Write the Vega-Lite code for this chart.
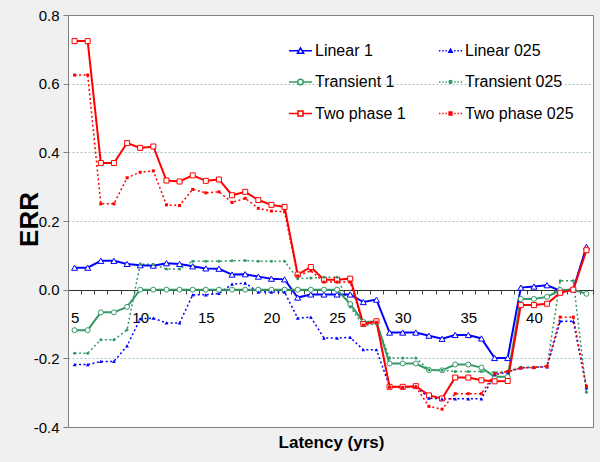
{
  "$schema": "https://vega.github.io/schema/vega-lite/v6.json",
  "width": 525,
  "height": 412,
  "autosize": {"type": "none"},
  "padding": {"left": 68, "top": 15, "right": 7, "bottom": 35},
  "background": "#f0f0f0",
  "config": {
    "font": "Liberation Sans",
    "view": {"fill": "white", "stroke": "#808080", "strokeWidth": 1}
  },
  "data": {
    "values": [
      {"t": 5, "Linear 1": 0.064, "Linear 025": -0.218, "Transient 1": -0.118, "Transient 025": -0.185, "Two phase 1": 0.724, "Two phase 025": 0.625},
      {"t": 6, "Linear 1": 0.064, "Linear 025": -0.218, "Transient 1": -0.118, "Transient 025": -0.185, "Two phase 1": 0.724, "Two phase 025": 0.625},
      {"t": 7, "Linear 1": 0.084, "Linear 025": -0.209, "Transient 1": -0.066, "Transient 025": -0.146, "Two phase 1": 0.369, "Two phase 025": 0.25},
      {"t": 8, "Linear 1": 0.084, "Linear 025": -0.209, "Transient 1": -0.066, "Transient 025": -0.146, "Two phase 1": 0.369, "Two phase 025": 0.25},
      {"t": 9, "Linear 1": 0.075, "Linear 025": -0.164, "Transient 1": -0.05, "Transient 025": -0.117, "Two phase 1": 0.427, "Two phase 025": 0.326},
      {"t": 10, "Linear 1": 0.071, "Linear 025": -0.085, "Transient 1": 0, "Transient 025": 0.074, "Two phase 1": 0.413, "Two phase 025": 0.342},
      {"t": 11, "Linear 1": 0.07, "Linear 025": -0.083, "Transient 1": 0, "Transient 025": 0.074, "Two phase 1": 0.417, "Two phase 025": 0.346},
      {"t": 12, "Linear 1": 0.077, "Linear 025": -0.097, "Transient 1": 0, "Transient 025": 0.06, "Two phase 1": 0.318, "Two phase 025": 0.247},
      {"t": 13, "Linear 1": 0.075, "Linear 025": -0.097, "Transient 1": 0, "Transient 025": 0.06, "Two phase 1": 0.315, "Two phase 025": 0.245},
      {"t": 14, "Linear 1": 0.068, "Linear 025": -0.015, "Transient 1": 0, "Transient 025": 0.083, "Two phase 1": 0.333, "Two phase 025": 0.292},
      {"t": 15, "Linear 1": 0.062, "Linear 025": -0.015, "Transient 1": 0, "Transient 025": 0.083, "Two phase 1": 0.317, "Two phase 025": 0.282},
      {"t": 16, "Linear 1": 0.061, "Linear 025": -0.011, "Transient 1": 0, "Transient 025": 0.083, "Two phase 1": 0.321, "Two phase 025": 0.285},
      {"t": 17, "Linear 1": 0.044, "Linear 025": 0.016, "Transient 1": 0, "Transient 025": 0.084, "Two phase 1": 0.275, "Two phase 025": 0.254},
      {"t": 18, "Linear 1": 0.045, "Linear 025": 0.019, "Transient 1": 0, "Transient 025": 0.085, "Two phase 1": 0.285, "Two phase 025": 0.266},
      {"t": 19, "Linear 1": 0.038, "Linear 025": -0.007, "Transient 1": 0, "Transient 025": 0.083, "Two phase 1": 0.261, "Two phase 025": 0.237},
      {"t": 20, "Linear 1": 0.032, "Linear 025": -0.007, "Transient 1": 0, "Transient 025": 0.083, "Two phase 1": 0.247, "Two phase 025": 0.229},
      {"t": 21, "Linear 1": 0.03, "Linear 025": -0.007, "Transient 1": 0, "Transient 025": 0.083, "Two phase 1": 0.241, "Two phase 025": 0.227},
      {"t": 22, "Linear 1": -0.023, "Linear 025": -0.083, "Transient 1": 0, "Transient 025": 0.032, "Two phase 1": 0.044, "Two phase 025": 0.04},
      {"t": 23, "Linear 1": -0.014, "Linear 025": -0.08, "Transient 1": 0, "Transient 025": 0.034, "Two phase 1": 0.066, "Two phase 025": 0.055},
      {"t": 24, "Linear 1": -0.014, "Linear 025": -0.141, "Transient 1": 0, "Transient 025": 0.036, "Two phase 1": 0.029, "Two phase 025": 0.022},
      {"t": 25, "Linear 1": -0.014, "Linear 025": -0.141, "Transient 1": 0, "Transient 025": 0.036, "Two phase 1": 0.029, "Two phase 025": 0.022},
      {"t": 26, "Linear 1": -0.014, "Linear 025": -0.139, "Transient 1": -0.042, "Transient 025": -0.05, "Two phase 1": 0.032, "Two phase 025": 0.022},
      {"t": 27, "Linear 1": -0.036, "Linear 025": -0.175, "Transient 1": -0.094, "Transient 025": -0.105, "Two phase 1": -0.1, "Two phase 025": -0.103},
      {"t": 28, "Linear 1": -0.029, "Linear 025": -0.175, "Transient 1": -0.093, "Transient 025": -0.099, "Two phase 1": -0.092, "Two phase 025": -0.095},
      {"t": 29, "Linear 1": -0.125, "Linear 025": -0.282, "Transient 1": -0.215, "Transient 025": -0.199, "Two phase 1": -0.283, "Two phase 025": -0.284},
      {"t": 30, "Linear 1": -0.125, "Linear 025": -0.283, "Transient 1": -0.215, "Transient 025": -0.199, "Two phase 1": -0.283, "Two phase 025": -0.285},
      {"t": 31, "Linear 1": -0.125, "Linear 025": -0.282, "Transient 1": -0.215, "Transient 025": -0.199, "Two phase 1": -0.281, "Two phase 025": -0.283},
      {"t": 32, "Linear 1": -0.134, "Linear 025": -0.316, "Transient 1": -0.234, "Transient 025": -0.233, "Two phase 1": -0.308, "Two phase 025": -0.34},
      {"t": 33, "Linear 1": -0.143, "Linear 025": -0.318, "Transient 1": -0.235, "Transient 025": -0.235, "Two phase 1": -0.317, "Two phase 025": -0.348},
      {"t": 34, "Linear 1": -0.132, "Linear 025": -0.318, "Transient 1": -0.218, "Transient 025": -0.238, "Two phase 1": -0.256, "Two phase 025": -0.303},
      {"t": 35, "Linear 1": -0.132, "Linear 025": -0.318, "Transient 1": -0.218, "Transient 025": -0.238, "Two phase 1": -0.256, "Two phase 025": -0.303},
      {"t": 36, "Linear 1": -0.142, "Linear 025": -0.318, "Transient 1": -0.227, "Transient 025": -0.238, "Two phase 1": -0.264, "Two phase 025": -0.303},
      {"t": 37, "Linear 1": -0.199, "Linear 025": -0.248, "Transient 1": -0.254, "Transient 025": -0.241, "Two phase 1": -0.267, "Two phase 025": -0.245},
      {"t": 38, "Linear 1": -0.199, "Linear 025": -0.24, "Transient 1": -0.254, "Transient 025": -0.238, "Two phase 1": -0.266, "Two phase 025": -0.238},
      {"t": 39, "Linear 1": 0.006, "Linear 025": -0.228, "Transient 1": -0.027, "Transient 025": -0.226, "Two phase 1": -0.045, "Two phase 025": -0.228},
      {"t": 40, "Linear 1": 0.009, "Linear 025": -0.226, "Transient 1": -0.027, "Transient 025": -0.226, "Two phase 1": -0.045, "Two phase 025": -0.227},
      {"t": 41, "Linear 1": 0.013, "Linear 025": -0.225, "Transient 1": -0.021, "Transient 025": -0.223, "Two phase 1": -0.041, "Two phase 025": -0.223},
      {"t": 42, "Linear 1": -0.003, "Linear 025": -0.092, "Transient 1": -0.001, "Transient 025": 0.026, "Two phase 1": -0.009, "Two phase 025": -0.08},
      {"t": 43, "Linear 1": 0.001, "Linear 025": -0.092, "Transient 1": 0, "Transient 025": 0.026, "Two phase 1": 0, "Two phase 025": -0.08},
      {"t": 44, "Linear 1": 0.125, "Linear 025": -0.286, "Transient 1": -0.012, "Transient 025": -0.299, "Two phase 1": 0.115, "Two phase 025": -0.282}
    ]
  },
  "transform": [
    {"fold": ["Linear 1", "Linear 025", "Transient 1", "Transient 025", "Two phase 1", "Two phase 025"], "as": ["s", "v"]}
  ],
  "encoding": {
    "x": {
      "field": "t",
      "type": "ordinal",
      "bandPosition": 0.5,
      "scale": {"type": "band", "paddingInner": 0, "paddingOuter": 0},
      "axis": {
        "orient": "bottom",
        "offset": -137,
        "title": "Latency (yrs)",
        "titleFont": "Liberation Sans",
        "titleFontSize": 17,
        "titleFontWeight": "bold",
        "titleColor": "black",
        "titleX": 263,
        "titleY": 157,
        "titleAlign": "center",
        "titleBaseline": "alphabetic",
        "labelExpr": "datum.value % 5 == 0 ? datum.label : ''",
        "labelAngle": 0,
        "labelFontSize": 15,
        "labelColor": "black",
        "labelPadding": 16,
        "labelOverlap": false,
        "tickBand": "extent",
        "tickSize": 4,
        "tickColor": "#404040",
        "domainColor": "#303030",
        "grid": false
      }
    },
    "y": {
      "field": "v",
      "type": "quantitative",
      "scale": {"domain": [-0.4, 0.8], "nice": false, "zero": false},
      "axis": {
        "values": [-0.4, -0.2, 0, 0.2, 0.4, 0.6, 0.8],
        "labelExpr": "datum.value < 0 ? '-' + format(-datum.value, '.1f') : format(datum.value, '.1f')",
        "labelFontSize": 15,
        "labelColor": "black",
        "labelPadding": 4,
        "tickSize": 5,
        "tickColor": "#808080",
        "domainColor": "#808080",
        "grid": true,
        "gridColor": {"condition": {"test": "datum.value == 0.8 || datum.value == -0.4", "value": "#808080"}, "value": "#a8c8c8"},
        "gridDash": {"condition": {"test": "datum.value == 0.8 || datum.value == -0.4", "value": []}, "value": [2, 2]},
        "title": "ERR",
        "titleFont": "Liberation Sans",
        "titleFontSize": 26,
        "titleFontWeight": "bold",
        "titleColor": "black",
        "titleX": -39,
        "titleY": 204,
        "titleAngle": -90,
        "titleAlign": "center",
        "titleBaseline": "middle"
      }
    }
  },
  "layer": [
    {
      "transform": [{"filter": {"field": "s", "oneOf": ["Linear 025", "Transient 025", "Two phase 025"]}}],
      "mark": {"type": "line", "strokeWidth": 1.5, "strokeDash": [2, 2.5]},
      "encoding": {
        "color": {"field": "s", "type": "nominal", "scale": {"domain": ["Two phase 025", "Two phase 1", "Transient 025", "Transient 1", "Linear 025", "Linear 1"], "range": ["#ff0000", "#ff0000", "#339966", "#339966", "#0000ff", "#0000ff"]}, "legend": null}
      }
    },
    {
      "transform": [{"filter": {"field": "s", "oneOf": ["Linear 1", "Transient 1", "Two phase 1"]}}],
      "mark": {"type": "line", "strokeWidth": 2},
      "encoding": {"color": {"field": "s", "type": "nominal", "legend": null}}
    },
    {
      "transform": [{"filter": {"field": "s", "equal": "Linear 1"}}],
      "mark": {"type": "point", "shape": "triangle-up", "filled": false, "fill": "white", "size": 36, "strokeWidth": 1, "opacity": 1},
      "encoding": {"color": {"field": "s", "type": "nominal", "legend": null}}
    },
    {
      "transform": [{"filter": {"field": "s", "equal": "Transient 1"}}],
      "mark": {"type": "point", "shape": "circle", "filled": false, "fill": "white", "size": 25, "strokeWidth": 1, "opacity": 1},
      "encoding": {"color": {"field": "s", "type": "nominal", "legend": null}}
    },
    {
      "transform": [{"filter": {"field": "s", "equal": "Two phase 1"}}],
      "mark": {"type": "point", "shape": "square", "filled": false, "fill": "white", "size": 25, "strokeWidth": 1, "opacity": 1},
      "encoding": {"color": {"field": "s", "type": "nominal", "legend": null}}
    },
    {
      "transform": [{"filter": {"field": "s", "equal": "Linear 025"}}],
      "mark": {"type": "point", "shape": "triangle-up", "filled": true, "size": 14, "opacity": 1},
      "encoding": {"color": {"field": "s", "type": "nominal", "legend": null}}
    },
    {
      "transform": [{"filter": {"field": "s", "equal": "Transient 025"}}],
      "mark": {"type": "point", "shape": "circle", "filled": true, "size": 9, "opacity": 1},
      "encoding": {"color": {"field": "s", "type": "nominal", "legend": null}}
    },
    {
      "transform": [{"filter": {"field": "s", "equal": "Two phase 025"}}],
      "mark": {"type": "point", "shape": "square", "filled": true, "size": 9, "opacity": 1},
      "encoding": {"color": {"field": "s", "type": "nominal", "legend": null}}
    },
    {
      "transform": [{"filter": {"field": "s", "equal": "none"}}],
      "mark": {"type": "point", "filled": true, "strokeWidth": 1.5},
      "encoding": {
        "shape": {
          "field": "s",
          "type": "nominal",
          "scale": {
            "domain": ["Linear 1", "Transient 1", "Two phase 1", "Linear 025", "Transient 025", "Two phase 025"],
            "range": [
              "M-1,0H-0.14M0.14,0H1M0,-0.24L0.27,0.22L-0.27,0.22Z",
              "M-1,0H-0.24M0.24,0H1M0.24,0A0.24,0.24,0,1,1,-0.24,0A0.24,0.24,0,1,1,0.24,0Z",
              "M-1,0H-0.22M0.22,0H1M-0.22,-0.22H0.22V0.22H-0.22Z",
              "M-1,0h0.12M-0.72,0h0.12M-0.44,0h0.12M0.32,0h0.12M0.6,0h0.12M0.88,0h0.12M0,-0.14L0.15,0.12L-0.15,0.12Z",
              "M-1,0h0.12M-0.72,0h0.12M-0.44,0h0.12M0.32,0h0.12M0.6,0h0.12M0.88,0h0.12M0.12,0A0.12,0.12,0,1,1,-0.12,0A0.12,0.12,0,1,1,0.12,0Z",
              "M-1,0h0.12M-0.72,0h0.12M-0.44,0h0.12M0.32,0h0.12M0.6,0h0.12M0.88,0h0.12M-0.12,-0.12H0.12V0.12H-0.12Z"
            ]
          },
          "legend": {
            "title": null, "orient": "none", "legendX": 220, "legendY": 23, "columns": 2, "columnPadding": 30, "rowPadding": 10.5,
            "symbolSize": 529, "symbolStrokeWidth": 1.5, "symbolOpacity": 1, "symbolFillColor": "white", "symbolStrokeColor": "black",
            "labelFontSize": 16, "labelFont": "Liberation Sans", "labelColor": "black", "labelOffset": 2, "padding": 0
          }
        },
        "stroke": {
          "field": "s",
          "type": "nominal",
          "scale": {"domain": ["Linear 1", "Transient 1", "Two phase 1", "Linear 025", "Transient 025", "Two phase 025"], "range": ["#0000ff", "#339966", "#ff0000", "#0000ff", "#339966", "#ff0000"]},
          "legend": {
            "title": null, "orient": "none", "legendX": 220, "legendY": 23, "columns": 2, "columnPadding": 30, "rowPadding": 10.5,
            "symbolSize": 529, "symbolStrokeWidth": 1.5, "symbolOpacity": 1, "symbolFillColor": "white", "symbolStrokeColor": "black",
            "labelFontSize": 16, "labelFont": "Liberation Sans", "labelColor": "black", "labelOffset": 2, "padding": 0
          }
        },
        "fill": {
          "field": "s",
          "type": "nominal",
          "scale": {"domain": ["Linear 1", "Transient 1", "Two phase 1", "Linear 025", "Transient 025", "Two phase 025"], "range": ["#ffffff", "#ffffff", "#ffffff", "#0000ff", "#339966", "#ff0000"]},
          "legend": {
            "title": null, "orient": "none", "legendX": 220, "legendY": 23, "columns": 2, "columnPadding": 30, "rowPadding": 10.5,
            "symbolSize": 529, "symbolStrokeWidth": 1.5, "symbolOpacity": 1, "symbolFillColor": "white", "symbolStrokeColor": "black",
            "labelFontSize": 16, "labelFont": "Liberation Sans", "labelColor": "black", "labelOffset": 2, "padding": 0
          }
        }
      }
    }
  ]
}
